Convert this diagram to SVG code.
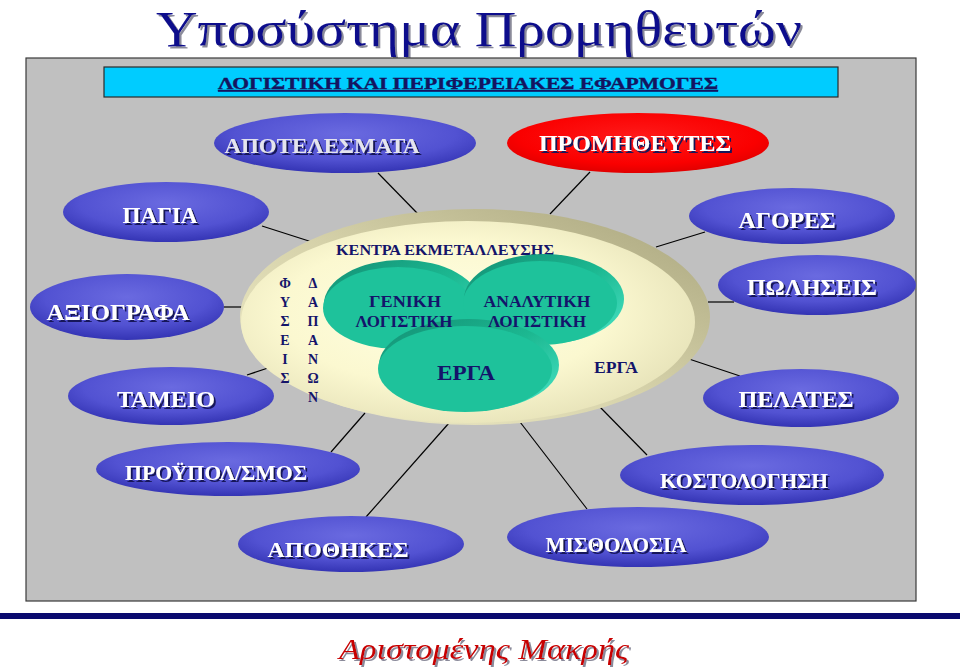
<svg xmlns="http://www.w3.org/2000/svg" width="960" height="669" viewBox="0 0 960 669">
<defs>
<style>
.blbl{font-family:"Liberation Serif","Times New Roman",serif;font-weight:bold;fill:#ffffff;text-anchor:middle;filter:url(#sh)}
.ctr{font-family:"Liberation Serif","Times New Roman",serif;font-weight:bold;fill:#14146a;text-anchor:middle}
.conn line{stroke:#000;stroke-width:1.2}
.blue{fill:url(#gBlue)}
.teal{fill:url(#gTeal)}
.tealin{fill:#1ec29b}
</style>
<filter id="sh" x="-10%" y="-20%" width="130%" height="160%"><feDropShadow dx="2" dy="2" stdDeviation="0.3" flood-color="#12125a"/></filter>
<filter id="tsh" x="-5%" y="-10%" width="110%" height="130%"><feDropShadow dx="2" dy="2" stdDeviation="0.6" flood-color="#8a8a9a"/></filter>
<radialGradient id="gBlue" cx="50%" cy="35%" r="65%"><stop offset="0" stop-color="#6a6ae0"/><stop offset="0.65" stop-color="#5252d2"/><stop offset="1" stop-color="#3434b4"/></radialGradient>
<radialGradient id="gRed" cx="50%" cy="40%" r="65%"><stop offset="0" stop-color="#ff1a1a"/><stop offset="0.7" stop-color="#fa0000"/><stop offset="1" stop-color="#d80000"/></radialGradient>
<linearGradient id="gRim" x1="1" y1="0" x2="0" y2="1"><stop offset="0" stop-color="#a8a47c"/><stop offset="0.5" stop-color="#d6d2aa"/><stop offset="1" stop-color="#f2efcc"/></linearGradient>
<radialGradient id="gCream" cx="45%" cy="45%" r="60%"><stop offset="0" stop-color="#ffffe2"/><stop offset="0.6" stop-color="#fbf8d0"/><stop offset="1" stop-color="#e6e2b8"/></radialGradient>
<linearGradient id="gTeal" x1="0" y1="0" x2="1" y2="1"><stop offset="0" stop-color="#138f74"/><stop offset="0.5" stop-color="#1cb891"/><stop offset="1" stop-color="#4ae6c8"/></linearGradient>
</defs>

<text x="479" y="46" font-family="'Liberation Serif','Times New Roman',serif" font-size="50" fill="#0a0a8c" text-anchor="middle" textLength="646" lengthAdjust="spacingAndGlyphs" filter="url(#tsh)">Υποσύστημα Προμηθευτών</text>

<rect x="26" y="58" width="890" height="543" fill="#c0c0c0" stroke="#3a3a3a" stroke-width="1.2"/>

<g id="banner">
<rect x="104" y="67" width="734" height="30" fill="#00ccff" stroke="#2a2a2a" stroke-width="1.2"/>
<text x="468" y="89" font-family="'Liberation Serif','Times New Roman',serif" font-size="17" font-weight="bold" fill="#141460" stroke="#141460" stroke-width="0.4" text-anchor="middle" text-decoration="underline" textLength="500" lengthAdjust="spacingAndGlyphs">ΛΟΓΙΣΤΙΚΗ ΚΑΙ ΠΕΡΙΦΕΡΕΙΑΚΕΣ ΕΦΑΡΜΟΓΕΣ</text>
</g>

<g id="connectors" class="conn">
<line x1="378" y1="173" x2="418" y2="214"/>
<line x1="590" y1="172" x2="550" y2="214"/>
<line x1="262" y1="226" x2="312" y2="242"/>
<line x1="224" y1="307" x2="242" y2="307"/>
<line x1="247" y1="375" x2="268" y2="368"/>
<line x1="705" y1="232" x2="656" y2="247"/>
<line x1="708" y1="302" x2="734" y2="302"/>
<line x1="686" y1="358" x2="740" y2="376"/>
<line x1="365" y1="413" x2="331" y2="452"/>
<line x1="449" y1="423" x2="366" y2="517"/>
<line x1="520" y1="422" x2="587" y2="509"/>
<line x1="599" y1="406" x2="647" y2="455"/>
</g>

<g id="kentra">
<ellipse cx="475" cy="317" rx="235" ry="108" fill="url(#gRim)"/>
<ellipse cx="468" cy="322" rx="227" ry="101" fill="url(#gCream)"/>
<text class="ctr" x="445" y="255" font-size="15" textLength="218" lengthAdjust="spacingAndGlyphs">ΚΕΝΤΡΑ ΕΚΜΕΤΑΛΛΕΥΣΗΣ</text>
<g class="ctr" font-size="14">
<text x="285" y="288">Φ</text><text x="285" y="307">Υ</text><text x="285" y="326">Σ</text><text x="285" y="345">Ε</text><text x="285" y="364">Ι</text><text x="285" y="383">Σ</text>
<text x="313" y="288">Δ</text><text x="313" y="307">Α</text><text x="313" y="326">Π</text><text x="313" y="345">Α</text><text x="313" y="364">Ν</text><text x="313" y="383">Ω</text><text x="313" y="402">Ν</text>
</g>
<text class="ctr" x="616" y="373" font-size="16" textLength="44" lengthAdjust="spacingAndGlyphs">ΕΡΓΑ</text>
</g>

<g id="geniki-shape">
<ellipse class="teal" cx="402" cy="304" rx="78" ry="44"/>
<ellipse class="tealin" cx="398" cy="308" rx="75" ry="41"/>
</g>
<g id="analytiki-shape">
<ellipse class="teal" cx="544" cy="299" rx="80" ry="45"/>
<ellipse class="tealin" cx="540" cy="303" rx="77" ry="42"/>
</g>
<g id="erga">
<ellipse class="teal" cx="469" cy="365" rx="90" ry="46"/>
<ellipse class="tealin" cx="465" cy="369" rx="87" ry="43"/>
<text class="ctr" x="466" y="380" font-size="22" textLength="58" lengthAdjust="spacingAndGlyphs">ΕΡΓΑ</text>
</g>
<g id="geniki">
<text class="ctr" x="405" y="307" font-size="17" textLength="72" lengthAdjust="spacingAndGlyphs">ΓΕΝΙΚΗ</text>
<text class="ctr" x="404" y="327" font-size="17" textLength="97" lengthAdjust="spacingAndGlyphs">ΛΟΓΙΣΤΙΚΗ</text>
</g>
<g id="analytiki">
<text class="ctr" x="537" y="307" font-size="17" textLength="107" lengthAdjust="spacingAndGlyphs">ΑΝΑΛΥΤΙΚΗ</text>
<text class="ctr" x="537" y="327" font-size="17" textLength="98" lengthAdjust="spacingAndGlyphs">ΛΟΓΙΣΤΙΚΗ</text>
</g>

<g id="apotelesmata">
<ellipse class="blue" cx="345" cy="143" rx="131" ry="30"/>
<text class="blbl" x="322" y="153" font-size="22" style="fill:#e4e4ee" textLength="195" lengthAdjust="spacingAndGlyphs">ΑΠΟΤΕΛΕΣΜΑΤΑ</text>
</g>

<g id="promitheftes">
<ellipse cx="638" cy="143" rx="131" ry="30" fill="url(#gRed)"/>
<text class="blbl" x="635" y="151" font-size="23" textLength="192" lengthAdjust="spacingAndGlyphs">ΠΡΟΜΗΘΕΥΤΕΣ</text>
</g>

<g id="pagia">
<ellipse class="blue" cx="166" cy="212" rx="103" ry="30"/>
<text class="blbl" x="160" y="223" font-size="24" textLength="75" lengthAdjust="spacingAndGlyphs">ΠΑΓΙΑ</text>
</g>

<g id="axiografa">
<ellipse class="blue" cx="127" cy="307" rx="97" ry="33"/>
<text class="blbl" x="118" y="320" font-size="24" textLength="143" lengthAdjust="spacingAndGlyphs">ΑΞΙΟΓΡΑΦΑ</text>
</g>

<g id="tameio">
<ellipse class="blue" cx="171" cy="396" rx="103" ry="29"/>
<text class="blbl" x="166" y="407" font-size="23" textLength="98" lengthAdjust="spacingAndGlyphs">ΤΑΜΕΙΟ</text>
</g>

<g id="agores">
<ellipse class="blue" cx="792" cy="216" rx="103" ry="28"/>
<text class="blbl" x="787" y="228" font-size="23" textLength="97" lengthAdjust="spacingAndGlyphs">ΑΓΟΡΕΣ</text>
</g>

<g id="poliseis">
<ellipse class="blue" cx="817" cy="285" rx="99" ry="30"/>
<text class="blbl" x="812" y="295" font-size="24" textLength="130" lengthAdjust="spacingAndGlyphs">ΠΩΛΗΣΕΙΣ</text>
</g>

<g id="pelates">
<ellipse class="blue" cx="801" cy="398" rx="98" ry="29"/>
<text class="blbl" x="796" y="407" font-size="24" textLength="115" lengthAdjust="spacingAndGlyphs">ΠΕΛΑΤΕΣ</text>
</g>

<g id="proypologismos">
<ellipse class="blue" cx="228" cy="469" rx="132" ry="27"/>
<text class="blbl" x="216" y="480" font-size="22" textLength="182" lengthAdjust="spacingAndGlyphs">ΠΡΟΫΠΟΛ/ΣΜΟΣ</text>
</g>

<g id="kostologisi">
<ellipse class="blue" cx="752" cy="475" rx="132" ry="30"/>
<text class="blbl" x="744" y="488" font-size="21" textLength="168" lengthAdjust="spacingAndGlyphs">ΚΟΣΤΟΛΟΓΗΣΗ</text>
</g>

<g id="apothikes">
<ellipse class="blue" cx="351" cy="544" rx="113" ry="28"/>
<text class="blbl" x="338" y="557" font-size="22" textLength="141" lengthAdjust="spacingAndGlyphs">ΑΠΟΘΗΚΕΣ</text>
</g>

<g id="misthodosia">
<ellipse class="blue" cx="638" cy="537" rx="131" ry="30"/>
<text class="blbl" x="616" y="552" font-size="22" textLength="141" lengthAdjust="spacingAndGlyphs">ΜΙΣΘΟΔΟΣΙΑ</text>
</g>

<rect x="0" y="613" width="960" height="6" fill="#0a0a6e"/>
<text x="484" y="659" font-family="'Liberation Serif','Times New Roman',serif" font-size="29" font-style="italic" fill="#c80000" text-anchor="middle" textLength="290" lengthAdjust="spacingAndGlyphs" filter="url(#tsh)">Αριστομένης Μακρής</text>
</svg>
